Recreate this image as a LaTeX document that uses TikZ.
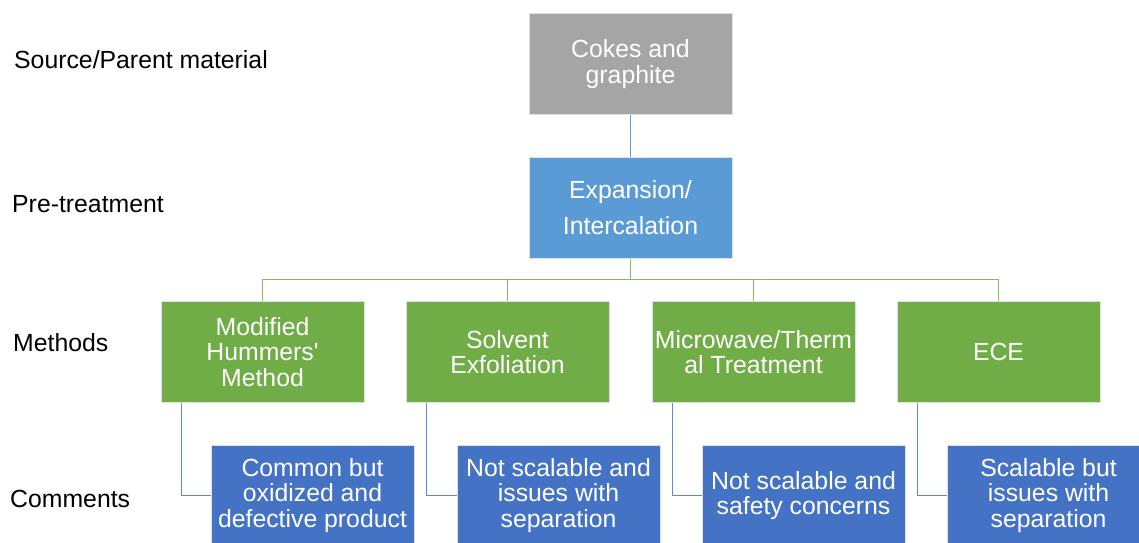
\documentclass[tikz,border=0pt]{standalone}
\usepackage{fontspec}
\setmainfont{Liberation Sans}
\definecolor{cgray}{HTML}{A5A5A5}
\definecolor{clblue}{HTML}{5B9BD5}
\definecolor{cgreen}{HTML}{70AD47}
\definecolor{cblue}{HTML}{4472C4}
\tikzset{
  box/.style={draw=white!88!black, line width=1pt, minimum width=203pt, minimum height=101pt,
    inner sep=0pt, align=center, text=white, font=\fontsize{24.8}{25.5}\selectfont},
  srcbox/.style={box, fill=cgray},
  prebox/.style={box, fill=clblue, font=\fontsize{24.8}{36}\selectfont},
  methbox/.style={box, fill=cgreen},
  combox/.style={box, fill=cblue},
  rowlabel/.style={anchor=base west, inner sep=0pt, font=\fontsize{24.8}{25.5}\selectfont, text=black},
  lconn/.style={draw=clblue, line width=1.3pt},
  gconn/.style={draw=cgreen!85!white, line width=1.4pt},
  bconn/.style={draw=cblue!85!white, line width=1.3pt}
}
\begin{document}
\begin{tikzpicture}[x=1pt, y=-1pt]
\useasboundingbox (0,0) rectangle (1139,542);
\clip (0,0) rectangle (1139,542);
\fill[white] (0,0) rectangle (1139,542);

% row labels
\node[rowlabel] (l1) at (14,68) {Source/Parent material};
\node[rowlabel] (l2) at (12,212) {Pre-treatment};
\node[rowlabel] (l3) at (13,351) {Methods};
\node[rowlabel] (l4) at (10,507) {Comments};

% boxes
\node[srcbox] (src) at (630.5,64) {Cokes and\\graphite};
\node[prebox] (pre) at (630.5,207.5) {Expansion/\\Intercalation};

\node[methbox] (m1) at (262.5,352) {Modified\\Hummers\textquotesingle\\Method};
\node[methbox] (m2) at (507.5,352) {Solvent\\Exfoliation};
\node[methbox] (m3) at (753.5,352) {Microwave/Therm\\al Treatment};
\node[methbox] (m4) at (998.5,352) {ECE};

\node[combox] (c1) at (312.5,495.5) {Common but\\oxidized and\\defective product};
\node[combox] (c2) at (558.5,495.5) {Not scalable and\\issues with\\separation};
\node[combox] (c3) at (803.5,495.5) {Not scalable and\\safety concerns};
\node[combox] (c4) at (1048.5,495.5) {Scalable but\\issues with\\separation};

% connectors
\draw[lconn] (src.south) -- (pre.north);
\draw[gconn] (pre.south) -- ++(0,21) coordinate (bus);
\foreach \m in {m1,m2,m3,m4} {\draw[gconn] (\m.north) |- (bus);}
\draw[bconn] ([xshift=21pt]m1.south west) |- (c1.west);
\draw[bconn] ([xshift=21pt]m2.south west) |- (c2.west);
\draw[bconn] ([xshift=21pt]m3.south west) |- (c3.west);
\draw[bconn] ([xshift=21pt]m4.south west) |- (c4.west);
\end{tikzpicture}
\end{document}
